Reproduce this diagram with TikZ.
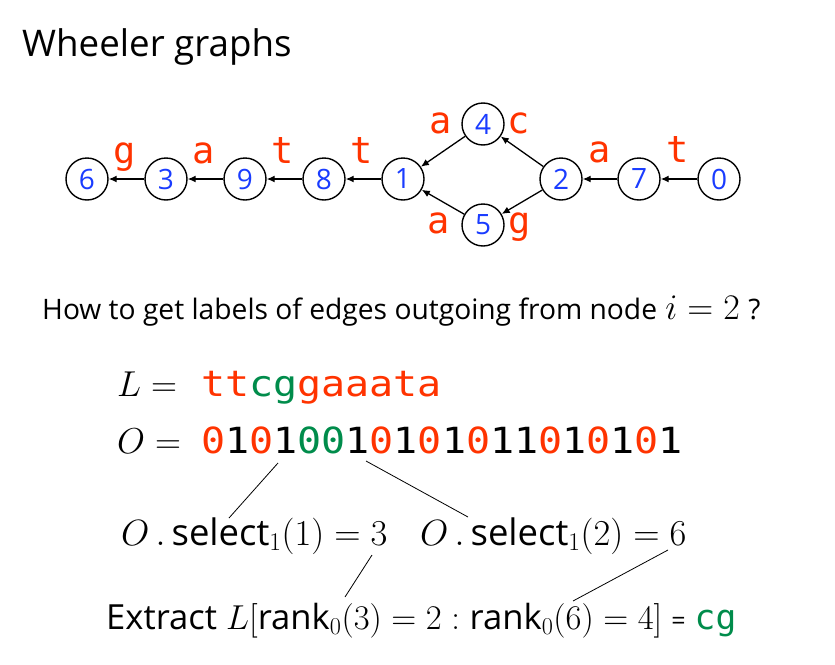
\RequirePackage{fix-cm}
\documentclass[tikz,border=0pt]{standalone}
\usepackage{fontspec}
\setsansfont{Open Sans}
\newfontfamily\monof{DejaVu Sans Mono}
\usetikzlibrary{arrows.meta}
\definecolor{lred}{RGB}{255,51,0}
\definecolor{lgreen}{RGB}{0,140,75}
\definecolor{lblue}{RGB}{26,60,255}
\newcommand{\R}[1]{\textcolor{lred}{#1}}
\newcommand{\G}[1]{\textcolor{lgreen}{#1}}
\newcommand{\fs}[1]{\fontsize{#1}{#1}\selectfont}
\tikzset{
  gnode/.style={circle,draw,line width=1.4pt,minimum size=42pt,inner sep=0pt,
    text=lblue,font=\sffamily\fs{28}},
  gedge/.style={line width=1.3pt,-{Latex[length=8pt,width=7pt]}},
  elab/.style={anchor=base,text=lred,inner sep=0pt,font=\monof\fs{37}},
  txt/.style={anchor=base west,inner sep=0pt},
  thin/.style={line width=0.8pt}
}
\begin{document}
\begin{tikzpicture}[x=1pt,y=-1pt]
\useasboundingbox (0,0) rectangle (835,664);
% title
\node[txt,font=\sffamily\fs{36.7}] (title) at (22,56) {Wheeler graphs};
% graph nodes
\node[gnode] (n6) at (87,179) {6};
\node[gnode] (n3) at (166,179) {3};
\node[gnode] (n9) at (245,179) {9};
\node[gnode] (n8) at (324,179) {8};
\node[gnode] (n1) at (403,179) {1};
\node[gnode] (n4) at (483,124) {4};
\node[gnode] (n5) at (483,225) {5};
\node[gnode] (n2) at (561,179) {2};
\node[gnode] (n7) at (639,179) {7};
\node[gnode] (n0) at (719,179) {0};
\draw[gedge] (n0) -- (n7);
\draw[gedge] (n7) -- (n2);
\draw[gedge] (n2) -- (n4);
\draw[gedge] (n2) -- (n5);
\draw[gedge] (n4) -- (n1);
\draw[gedge] (n5) -- (n1);
\draw[gedge] (n1) -- (n8);
\draw[gedge] (n8) -- (n9);
\draw[gedge] (n9) -- (n3);
\draw[gedge] (n3) -- (n6);
% edge labels
\node[elab] (l1) at (125,163) {g};
\node[elab] (l2) at (204,163) {a};
\node[elab] (l3) at (283,163) {t};
\node[elab] (l4) at (362,163) {t};
\node[elab] (l5) at (441,133) {a};
\node[elab] (l6) at (519,133) {c};
\node[elab] (l7) at (439,233) {a};
\node[elab] (l8) at (520,233) {g};
\node[elab] (l9) at (600,162) {a};
\node[elab] (l10) at (678,162) {t};
% L and O lines
\node[txt,font=\fs{36}] (Leq) at (117,396) {$L =$};
\node[txt,font=\monof\fs{40}] (Lstr) at (201,396)
  {\scalebox{1}[0.9]{\R{tt}\G{cg}\R{gaaata}}};
\node[txt,font=\fs{36}] (Oeq) at (117,453) {$O =$};
\node[txt,font=\monof\fs{40}] (Ostr) at (201,453)
  {\scalebox{1}[0.9]{\R{0}1\R{0}1\G{00}1\R{0}1\R{0}1\R{0}11\R{0}1\R{0}1\R{0}1}};
% question
\node[txt,font=\sffamily\fs{28.2}] (q) at (42,319)
  {How to get labels of edges outgoing from node};
\node[txt,font=\fs{36}] (qm) at ([xshift=8pt]q.base east) {$i = 2$};
\node[txt,font=\sffamily\fs{28.2}] (qq) at ([xshift=8pt]qm.base east) {?};
% select line
\node[txt,font=\fs{36.5}] (s1) at (121,545)
  {$O\,.\,\textsf{select}_1(1) = 3$};
\node[txt,font=\fs{36.5}] (s2) at (420,545)
  {$O\,.\,\textsf{select}_1(2) = 6$};
% extract line
\node[txt,font=\sffamily\fs{34.6}] (ex) at (106,629)
  {Extract $L[\textsf{rank}_0(3) = 2 : \textsf{rank}_0(6) = 4]$ {\fs{25}=} {\monof\G{cg}}};
% connector lines
\coordinate (a1) at (278,463);
\coordinate (a2) at (229,518);
\coordinate (b1) at (366,461);
\coordinate (b2) at (468,517);
\coordinate (c1) at (372,555);
\coordinate (c2) at (345,597);
\coordinate (d1) at (668,550);
\coordinate (d2) at (573,601);
\draw[thin] (a1) -- (a2);
\draw[thin] (b1) -- (b2);
\draw[thin] (c1) -- (c2);
\draw[thin] (d1) -- (d2);
\end{tikzpicture}
\end{document}
